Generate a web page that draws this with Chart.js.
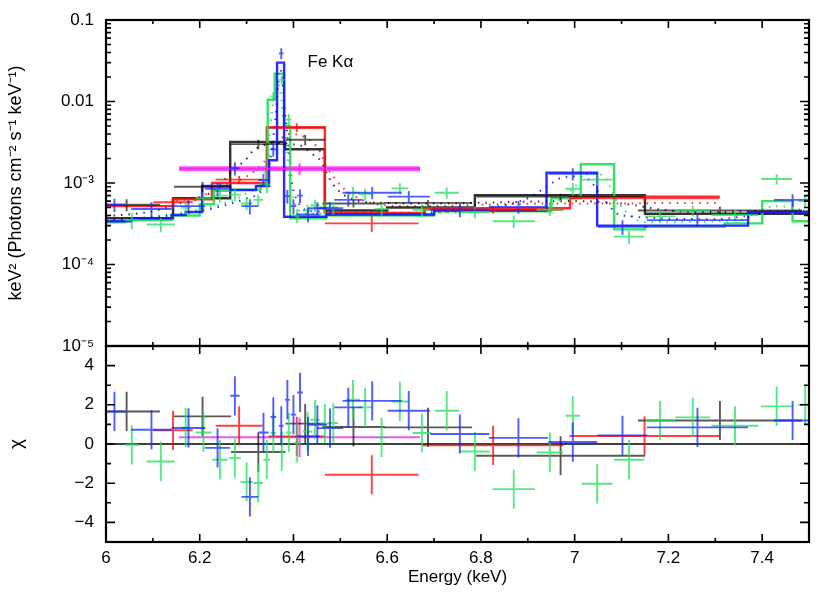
<!DOCTYPE html>
<html>
<head>
<meta charset="utf-8">
<script src="https://cdn.jsdelivr.net/npm/chart.js@4.4.1/dist/chart.umd.min.js"></script>
<style>
body { margin: 0; background: #fff; }
#wrap { position: relative; width: 830px; height: 594px; }
#wrap canvas { position: absolute; left: 0; top: 0; }
</style>
</head>
<body>
<div id="wrap">
<canvas id="specChart" width="830" height="594"></canvas>
<canvas id="chiChart" width="830" height="594"></canvas>
</div>
<script>
// axis ticks
var energyTicks = [6, 6.2, 6.4, 6.6, 6.8, 7, 7.2, 7.4];
var energyTickLabels = ["6", "6.2", "6.4", "6.6", "6.8", "7", "7.2", "7.4"];
var fluxTicks = [1e-5, 1e-4, 1e-3, 0.01, 0.1];
var fluxTickLabels = ["10⁻⁵", "10⁻⁴", "10⁻³", "0.01", "0.1"];
var chiTicks = [-4, -2, 0, 2, 4];
var chiTickLabels = ["\u22124", "\u22122", "0", "2", "4"];

// blue data
var blueE = [6.018, 6.097, 6.176, 6.238, 6.275, 6.307, 6.336, 6.357, 6.374, 6.387, 6.400, 6.414, 6.431, 6.451, 6.478, 6.517, 6.568, 6.646, 6.755, 6.880, 6.996, 7.102, 7.262, 7.465];
var blueDE = [0.025, 0.043, 0.036, 0.027, 0.010, 0.018, 0.011, 0.006, 0.005, 0.005, 0.006, 0.006, 0.025, 0.020, 0.028, 0.030, 0.063, 0.045, 0.063, 0.063, 0.052, 0.053, 0.108, 0.040];
var blueFlux = [5.4e-4, 4.8e-4, 5.2e-4, 8.5e-4, 1.52e-3, 5.2e-4, 1.09e-3, 2.6e-3, 3.9e-2, 6.9e-4, 5.2e-4, 7.0e-4, 4.1e-4, 4.9e-4, 4.9e-4, 6.2e-4, 7.6e-4, 6.8e-4, 4.7e-4, 5.1e-4, 1.3e-3, 2.9e-4, 3.5e-4, 6.2e-4];
var blueErr = [1.0e-4, 1.0e-4, 0.9e-4, 1.6e-4, 2.8e-4, 1.1e-4, 2.0e-4, 5.0e-4, 6.0e-3, 1.3e-4, 1.1e-4, 1.3e-4, 0.8e-4, 0.9e-4, 0.9e-4, 1.1e-4, 1.3e-4, 1.2e-4, 0.9e-4, 0.9e-4, 2.2e-4, 0.6e-4, 0.6e-4, 1.1e-4];
var blueChi = [1.66, 0.73, 0.82, -0.2, 2.46, -2.7, 0.59, 1.38, 0.93, 2.26, 1.5, 2.63, 0.39, 0.98, 0.81, 1.87, 2.2, 1.7, 0.51, 0.31, 0.1, 0.44, 0.85, 1.2];
var blueEdges = [6.0, 6.055, 6.14, 6.17, 6.205, 6.265, 6.32, 6.348, 6.365, 6.38, 6.47, 6.7, 6.94, 7.048, 7.37, 7.5];
var blueModel = [3.4e-4, 3.7e-4, 4.05e-4, 4.4e-4, 9.2e-4, 8.2e-4, 9.2e-4, 1.9e-3, 3.0e-2, 3.85e-4, 4.1e-4, 4.6e-4, 1.34e-3, 3.0e-4, 4.4e-4];
var blueDotE = [6.0, 6.1, 6.2, 6.3, 6.34, 6.36, 6.372, 6.385, 6.40, 6.44, 6.6, 6.8, 6.9, 6.94, 6.97, 7.0, 7.03, 7.06, 7.1, 7.3, 7.4, 7.5];
var blueDot = [3.5e-4, 3.8e-4, 4.5e-4, 6.5e-4, 1.0e-3, 5e-3, 2.5e-2, 5e-3, 8e-4, 4.5e-4, 4.3e-4, 4.8e-4, 6.5e-4, 9e-4, 1.15e-3, 1.2e-3, 1.1e-3, 6.5e-4, 4.0e-4, 3.6e-4, 4.2e-4, 4.6e-4];

// green data
var greenE = [6.055, 6.117, 6.170, 6.208, 6.243, 6.275, 6.300, 6.325, 6.343, 6.357, 6.375, 6.390, 6.408, 6.430, 6.446, 6.467, 6.485, 6.527, 6.553, 6.588, 6.627, 6.674, 6.727, 6.787, 6.870, 6.947, 6.996, 7.048, 7.116, 7.182, 7.252, 7.342, 7.431, 7.492];
var greenDE = [0.015, 0.030, 0.010, 0.017, 0.017, 0.013, 0.013, 0.010, 0.007, 0.006, 0.006, 0.006, 0.007, 0.010, 0.010, 0.010, 0.010, 0.015, 0.015, 0.015, 0.018, 0.020, 0.026, 0.032, 0.045, 0.028, 0.016, 0.033, 0.032, 0.032, 0.037, 0.050, 0.033, 0.015];
var greenFlux = [3.5e-4, 3.1e-4, 5.0e-4, 6.5e-4, 7.0e-4, 7.2e-4, 5.6e-4, 6.2e-4, 9.5e-4, 1.15e-2, 1.84e-2, 6.0e-3, 4.0e-4, 4.6e-4, 5.3e-4, 5.0e-4, 5.0e-4, 7.6e-4, 7.3e-4, 4.8e-4, 8.6e-4, 4.7e-4, 7.6e-4, 4.4e-4, 3.4e-4, 4.7e-4, 8.5e-4, 1.1e-3, 2.2e-4, 3.9e-4, 4.6e-4, 4.05e-4, 1.12e-3, 6.0e-4];
var greenErr = [0.8e-4, 0.6e-4, 0.9e-4, 1.1e-4, 1.2e-4, 1.2e-4, 1.0e-4, 1.0e-4, 2.0e-4, 1.5e-3, 2.5e-3, 1.0e-3, 0.8e-4, 0.8e-4, 0.9e-4, 0.9e-4, 0.9e-4, 1.3e-4, 1.2e-4, 0.8e-4, 1.3e-4, 0.8e-4, 1.2e-4, 0.7e-4, 0.6e-4, 0.8e-4, 1.5e-4, 1.8e-4, 0.4e-4, 0.6e-4, 0.7e-4, 0.6e-4, 1.6e-4, 1.0e-4];
var greenChi = [-0.04, -0.89, 0.84, 0.59, -0.8, -0.72, -1.94, -1.99, -0.8, 0.56, -0.38, 0.59, 0.05, 0.64, 1.24, 1.04, 1.07, 2.26, 1.87, 0.34, 2.17, 0.56, 1.7, -0.38, -2.3, -0.43, 1.44, -2.03, -0.8, 1.2, 1.36, 0.93, 1.92, 2.0];
var greenEdges = [6.0, 6.04, 6.14, 6.2, 6.23, 6.265, 6.33, 6.345, 6.36, 6.38, 6.393, 6.47, 6.7, 6.95, 7.013, 7.084, 7.15, 7.32, 7.4, 7.465, 7.5];
var greenModel = [3.3e-4, 3.5e-4, 4.0e-4, 5.5e-4, 8.0e-4, 8.3e-4, 9.5e-4, 1.05e-2, 2.2e-2, 5.0e-3, 3.7e-4, 4.0e-4, 4.5e-4, 6.5e-4, 1.7e-3, 2.7e-4, 2.9e-4, 3.2e-4, 6.0e-4, 3.4e-4];
var greenDotE = [6.0, 6.2, 6.3, 6.34, 6.355, 6.368, 6.38, 6.395, 6.43, 6.7, 6.95, 7.0, 7.03, 7.06, 7.09, 7.15, 7.35, 7.43, 7.5];
var greenDot = [3.4e-4, 4.8e-4, 7.5e-4, 1.5e-3, 8e-3, 1.6e-2, 5e-3, 8e-4, 4.2e-4, 4.3e-4, 5.5e-4, 9e-4, 1.3e-3, 1.25e-3, 6e-4, 3.3e-4, 3.5e-4, 5.2e-4, 4.5e-4];

// black data
var blackE = [6.044, 6.206, 6.325, 6.425, 6.528, 6.687, 6.970, 7.310];
var blackDE = [0.071, 0.061, 0.058, 0.042, 0.066, 0.094, 0.180, 0.175];
var blackFlux = [5.4e-4, 9.0e-4, 3.0e-3, 3.4e-3, 5.6e-4, 5.7e-4, 6.8e-4, 4.6e-4];
var blackErr = [0.9e-4, 1.3e-4, 4e-4, 5e-4, 0.6e-4, 0.5e-4, 0.6e-4, 0.5e-4];
var blackChi = [1.66, 1.41, -0.41, 1.04, 0.87, 0.85, -0.6, 1.2];
var blackEdges = [6.0, 6.143, 6.265, 6.382, 6.467, 6.6, 6.787, 7.15, 7.5];
var blackModel = [3.7e-4, 6.5e-4, 3.2e-3, 2.6e-3, 4.6e-4, 5.0e-4, 7.1e-4, 4.2e-4];
var blackDotE = [6.0, 6.1, 6.15, 6.2, 6.24, 6.271, 6.297, 6.314, 6.33, 6.356, 6.396, 6.42, 6.439, 6.457, 6.478, 6.492, 6.521, 6.56, 6.7, 6.9, 7.0, 7.1, 7.2, 7.3, 7.4, 7.5];
var blackDot = [3.9e-4, 4.5e-4, 5.5e-4, 6.5e-4, 9e-4, 1.45e-3, 1.9e-3, 2.5e-3, 2.8e-3, 3.1e-3, 3.0e-3, 2.8e-3, 2.3e-3, 1.9e-3, 1.1e-3, 8.5e-4, 6.5e-4, 5.8e-4, 5.6e-4, 5.9e-4, 6.0e-4, 5.6e-4, 4.6e-4, 4.4e-4, 4.5e-4, 4.5e-4];

// red data
var redE = [6.143, 6.284, 6.407, 6.567, 6.826, 7.149];
var redDE = [0.042, 0.050, 0.060, 0.100, 0.150, 0.160];
var redFlux = [5.8e-4, 1.1e-3, 4.8e-3, 3.2e-4, 4.7e-4, 6.5e-4];
var redErr = [0.8e-4, 1.3e-4, 6e-4, 0.7e-4, 0.5e-4, 0.5e-4];
var redChi = [0.7, 0.93, 0.39, -1.57, -0.07, 0.41];
var redEdges = [6.0, 6.143, 6.226, 6.343, 6.467, 6.68, 6.99, 7.31];
var redModel = [5.2e-4, 6.3e-4, 1.0e-3, 4.8e-3, 4.3e-4, 4.9e-4, 6.8e-4];
var redDotE = [6.15, 6.2, 6.25, 6.3, 6.335, 6.36, 6.39, 6.41, 6.44, 6.457, 6.47, 6.485, 6.503, 6.52, 6.56, 6.65, 6.8, 6.95, 7.1, 7.2, 7.31];
var redDot = [6.0e-4, 6.8e-4, 9e-4, 1.2e-3, 1.75e-3, 2.8e-3, 4.0e-3, 3.9e-3, 3.2e-3, 2.4e-3, 1.6e-3, 1.2e-3, 9e-4, 7.5e-4, 5.8e-4, 5.2e-4, 5.4e-4, 5.6e-4, 5.6e-4, 5.7e-4, 5.7e-4];

// magenta (one wide bin)
var magentaE = [6.413];
var magentaDE = [0.257];
var magentaFlux = [1.5e-3];
var magentaErr = [0.25e-3];
var magentaChi = [0.34];
var magentaEdges = [6.156, 6.670];
var magentaModel = [1.5e-3];

var FONT = '"Liberation Sans", Arial, Helvetica, sans-serif';
Chart.defaults.font.family = FONT;
Chart.defaults.color = "#000";

function crossPoints(e, de, v, dv) {
    return e.map(function(x, i) { return {x: x, y: v[i], dx: de[i], dy: dv[i]}; });
}
function chiPoints(e, de, c) {
    return e.map(function(x, i) { return {x: x, y: c[i], dx: de[i], dy: 1}; });
}
function stepPoints(edges, vals) {
    return edges.map(function(x, i) { return {x: x, y: vals[Math.min(i, vals.length - 1)]}; });
}
function curvePoints(e, v) {
    return e.map(function(x, i) { return {x: x, y: v[i]}; });
}
function labelFor(v, vals, labels) {
    for (var i = 0; i < vals.length; i++) {
        if (Math.abs(v - vals[i]) <= 1e-6 * Math.abs(vals[i]) + 1e-12) return labels[i];
    }
    return "";
}

// tick mark positions for the frame
var xTickMarks = [];
for (var k = 0; k <= 15; k++) xTickMarks.push({v: 6 + k / 10, major: k % 2 === 0});
var fluxTickMarks = [];
fluxTicks.forEach(function(d) {
    fluxTickMarks.push({v: d, major: true});
    if (d < 0.1) for (var m = 2; m <= 9; m++) fluxTickMarks.push({v: m * d, major: false});
});
var chiTickMarks = [];
for (var c = -5; c <= 5; c++) chiTickMarks.push({v: c, major: c % 2 === 0});

var crossPlugin = {
    id: "crosses",
    afterDatasetsDraw: function(chart) {
        var ctx = chart.ctx, a = chart.chartArea, sx = chart.scales.x, sy = chart.scales.y;
        ctx.save();
        ctx.beginPath();
        ctx.rect(a.left, a.top, a.right - a.left, a.bottom - a.top);
        ctx.clip();
        chart.data.datasets.forEach(function(ds) {
            if (!ds.crosses) return;
            ctx.strokeStyle = ds.crossColor;
            ctx.lineWidth = ds.crossWidth || 1.5;
            ds.data.forEach(function(p) {
                var px = sx.getPixelForValue(p.x), py = sy.getPixelForValue(p.y);
                ctx.beginPath();
                ctx.moveTo(sx.getPixelForValue(p.x - p.dx), py);
                ctx.lineTo(sx.getPixelForValue(p.x + p.dx), py);
                ctx.moveTo(px, sy.getPixelForValue(p.y - p.dy));
                ctx.lineTo(px, sy.getPixelForValue(p.y + p.dy));
                ctx.stroke();
            });
        });
        ctx.restore();
    }
};

var framePlugin = {
    id: "frame",
    afterDraw: function(chart, args, o) {
        var ctx = chart.ctx, a = chart.chartArea, sx = chart.scales.x, sy = chart.scales.y;
        ctx.save();
        ctx.strokeStyle = "#000";
        ctx.lineWidth = 1.6;
        ctx.beginPath();
        o.xTicks.forEach(function(t) {
            var px = sx.getPixelForValue(t.v), len = t.major ? 8 : 4;
            if (px <= a.left + 1 || px >= a.right - 1) return;
            ctx.moveTo(px, a.top); ctx.lineTo(px, a.top + len);
            ctx.moveTo(px, a.bottom); ctx.lineTo(px, a.bottom - len);
        });
        o.yTicks.forEach(function(t) {
            var py = sy.getPixelForValue(t.v), len = t.major ? 9 : 5;
            if (py <= a.top + 1 || py >= a.bottom - 1) return;
            ctx.moveTo(a.left, py); ctx.lineTo(a.left + len, py);
            ctx.moveTo(a.right, py); ctx.lineTo(a.right - len, py);
        });
        ctx.stroke();
        ctx.lineWidth = 2.2;
        ctx.strokeRect(a.left, a.top, a.right - a.left, a.bottom - a.top);
        if (o.label) {
            ctx.fillStyle = "#000";
            ctx.font = "17px " + FONT;
            ctx.textAlign = "left";
            ctx.textBaseline = "middle";
            ctx.fillText(o.label.text, sx.getPixelForValue(o.label.x), sy.getPixelForValue(o.label.y));
        }
        ctx.restore();
    }
};

function stepSet(edges, vals, color, width) {
    return {data: stepPoints(edges, vals), showLine: true, stepped: "before", borderColor: color, borderWidth: width, pointRadius: 0};
}
function dotSet(e, v, color) {
    return {data: curvePoints(e, v), showLine: true, borderColor: color, borderWidth: 2, borderDash: [1.5, 6], tension: 0.3, cubicInterpolationMode: "monotone", pointRadius: 0};
}
function crossSet(points, color, width) {
    return {data: points, crosses: true, crossColor: color, crossWidth: width, showLine: false, pointRadius: 0};
}

var colBlue = "rgba(20,20,255,0.9)";
var colGreen = "rgba(30,225,80,0.9)";
var colRed = "rgba(255,20,20,0.9)";
var colBlack = "rgba(0,0,0,0.8)";
var colMagenta = "rgba(245,50,245,0.85)";

var fluxAxis = {
    type: "logarithmic", min: 1e-5, max: 0.1,
    grid: {display: false, drawTicks: false}, border: {display: false},
    ticks: {autoSkip: false, padding: 12, font: {size: 17}, callback: function(v) { return labelFor(v, fluxTicks, fluxTickLabels); }},
    title: {display: true, text: "keV² (Photons cm⁻² s⁻¹ keV⁻¹)", font: {size: 18}, padding: {top: 5, bottom: 0}},
    afterFit: function(s) { s.width = 106; s.paddingTop = 0; s.paddingBottom = 0; }
};

new Chart("specChart", {
    type: "scatter",
    data: {
        datasets: [
            stepSet(blueEdges, blueModel, colBlue, 2.4),
            stepSet(greenEdges, greenModel, colGreen, 2.4),
            stepSet(redEdges, redModel, colRed, 2.4),
            stepSet(blackEdges, blackModel, colBlack, 2.4),
            stepSet(magentaEdges, magentaModel, colMagenta, 5),
            dotSet(blueDotE, blueDot, colBlue),
            dotSet(greenDotE, greenDot, colGreen),
            dotSet(redDotE, redDot, colRed),
            dotSet(blackDotE, blackDot, colBlack),
            crossSet(crossPoints(magentaE, magentaDE, magentaFlux, magentaErr), "rgba(240,40,240,0.8)", 2),
            crossSet(crossPoints(blackE, blackDE, blackFlux, blackErr), "rgba(0,0,0,0.65)", 1.9),
            crossSet(crossPoints(redE, redDE, redFlux, redErr), "rgba(255,0,0,0.75)", 1.9),
            crossSet(crossPoints(greenE, greenDE, greenFlux, greenErr), "rgba(30,225,90,0.75)", 1.9),
            crossSet(crossPoints(blueE, blueDE, blueFlux, blueErr), "rgba(20,40,255,0.75)", 1.9)
        ]
    },
    options: {
        responsive: false, animation: false, events: [],
        layout: {padding: {left: 0, right: 21, top: 20, bottom: 248}},
        plugins: {
            legend: {display: false}, tooltip: {enabled: false},
            frame: {xTicks: xTickMarks, yTicks: fluxTickMarks, label: {text: "Fe Kα", x: 6.43, y: 0.03}}
        },
        scales: {
            x: {type: "linear", min: 6, max: 7.5, display: false},
            y: fluxAxis
        }
    },
    plugins: [crossPlugin, framePlugin]
});

new Chart("chiChart", {
    type: "scatter",
    data: {
        datasets: [
            {data: [{x: 6, y: 0}, {x: 7.5, y: 0}], showLine: true, borderColor: "#000", borderWidth: 1.6, pointRadius: 0},
            crossSet(chiPoints(magentaE, magentaDE, magentaChi), "rgba(240,40,240,0.8)", 2),
            crossSet(chiPoints(blackE, blackDE, blackChi), "rgba(0,0,0,0.65)", 1.9),
            crossSet(chiPoints(redE, redDE, redChi), "rgba(255,0,0,0.75)", 1.9),
            crossSet(chiPoints(greenE, greenDE, greenChi), "rgba(30,225,90,0.75)", 1.9),
            crossSet(chiPoints(blueE, blueDE, blueChi), "rgba(20,40,255,0.75)", 1.9)
        ]
    },
    options: {
        responsive: false, animation: false, events: [],
        layout: {padding: {left: 0, right: 21, top: 346, bottom: 0}},
        plugins: {
            legend: {display: false}, tooltip: {enabled: false},
            frame: {xTicks: xTickMarks, yTicks: chiTickMarks}
        },
        scales: {
            x: {
                type: "linear", min: 6, max: 7.5,
                grid: {display: false, drawTicks: false}, border: {display: false},
                ticks: {stepSize: 0.1, autoSkip: false, maxRotation: 0, padding: 6, font: {size: 17},
                    callback: function(v) { return labelFor(v, energyTicks, energyTickLabels); }},
                title: {display: true, text: "Energy (keV)", font: {size: 17}, padding: {top: 0, bottom: 6}},
                afterFit: function(s) { s.height = 52; s.paddingLeft = 0; s.paddingRight = 0; }
            },
            y: {
                type: "linear", min: -5, max: 5,
                grid: {display: false, drawTicks: false}, border: {display: false},
                ticks: {stepSize: 1, autoSkip: false, padding: 12, font: {size: 17},
                    callback: function(v) { return labelFor(v, chiTicks, chiTickLabels); }},
                title: {display: true, text: "χ", font: {size: 19}, padding: {top: 5, bottom: 0}},
                afterFit: function(s) { s.width = 106; s.paddingTop = 0; s.paddingBottom = 0; }
            }
        }
    },
    plugins: [crossPlugin, framePlugin]
});
</script>
</body>
</html>
